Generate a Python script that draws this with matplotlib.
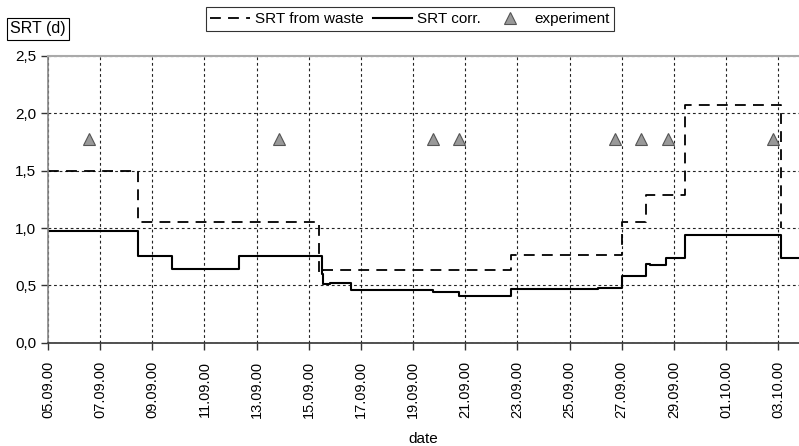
import matplotlib
matplotlib.use('Agg')
import matplotlib.pyplot as plt
from matplotlib.ticker import FixedLocator, FuncFormatter

# days counted from 05.09.00
tick_days = list(range(0, 29, 2))
tick_labels = ['05.09.00', '07.09.00', '09.09.00', '11.09.00', '13.09.00',
               '15.09.00', '17.09.00', '19.09.00', '21.09.00', '23.09.00',
               '25.09.00', '27.09.00', '29.09.00', '01.10.00', '03.10.00']

# SRT from waste (step, value holds until next change)
waste_t = [0, 3.45, 10.41, 10.55, 17.76, 22.03, 22.93, 24.43, 28.1]
waste_v = [1.50, 1.05, 0.61, 0.63, 0.765, 1.055, 1.29, 2.07, 1.0]

# SRT corr.
corr_t = [0, 3.45, 4.74, 7.34, 10.52, 10.56, 10.8, 11.62, 14.78, 15.78,
          17.76, 21.09, 22.03, 22.94, 23.1, 23.7, 24.43, 28.1, 28.8]
corr_v = [0.975, 0.76, 0.645, 0.76, 0.60, 0.51, 0.52, 0.46, 0.44, 0.405,
          0.47, 0.48, 0.58, 0.69, 0.68, 0.735, 0.935, 0.74, 0.74]

# experiment
exp_t = [1.58, 8.85, 14.78, 15.78, 21.75, 22.76, 23.76, 27.8]
exp_v = [1.78, 1.78, 1.78, 1.78, 1.78, 1.78, 1.78, 1.78]

plt.rcParams['font.family'] = ['Liberation Sans', 'DejaVu Sans']
plt.rcParams['font.size'] = 10.5

fig = plt.figure(figsize=(7.99, 4.46), dpi=100)
ax = fig.add_axes([48 / 799, 1 - 342.7 / 446, 1 - 48 / 799, (342.7 - 56) / 446])

l1, = ax.step(waste_t, waste_v, where='post', color='black', lw=1.3,
              linestyle=(0, (6, 4)), label='SRT from waste')
l2, = ax.step(corr_t, corr_v, where='post', color='black', lw=1.5,
              label='SRT corr.')
l3, = ax.plot(exp_t, exp_v, linestyle='none', marker='^', markersize=9,
              markerfacecolor='#999999', markeredgecolor='#555555',
              markeredgewidth=0.8, label='experiment')

ax.set_xlim(0, 28.8)
ax.set_ylim(0, 2.5)
ax.xaxis.set_major_locator(FixedLocator(tick_days))
ax.set_xticklabels(tick_labels, rotation=90)
ax.set_yticks([0, 0.5, 1.0, 1.5, 2.0, 2.5])
ax.yaxis.set_major_formatter(FuncFormatter(lambda v, p: f'{v:.1f}'.replace('.', ',')))

ax.grid(True, color='#222222', linestyle=(0, (2.5, 2.5)), linewidth=0.8)
ax.set_axisbelow(True)
ax.tick_params(direction='out', length=5, color='#333333', width=1)
ax.tick_params(axis='x', pad=8)
ax.tick_params(axis='y', labelsize=11)

ax.spines['right'].set_visible(False)
ax.spines['top'].set_color('#aaaaaa')
ax.spines['top'].set_linewidth(1.5)
ax.spines['left'].set_color('#888888')
ax.spines['left'].set_linewidth(1.2)
ax.spines['bottom'].set_color('#333333')
ax.spines['bottom'].set_linewidth(1.2)

ax.set_xlabel('date', labelpad=10, fontsize=11)

fig.text(10 / 799, 1 - 29 / 446, 'SRT (d)', va='center', ha='left', fontsize=11.5,
         bbox=dict(boxstyle='square,pad=0.2', fc='white', ec='black', lw=0.8))

leg = fig.legend(handles=[l1, l2, l3], loc='center', ncol=3,
                 bbox_to_anchor=(410 / 799, 1 - 19 / 446), frameon=True,
                 fancybox=False, edgecolor='black', handlelength=2.6,
                 handletextpad=0.3, columnspacing=0.6, borderpad=0.3,
                 borderaxespad=0, fontsize=11)
leg.get_frame().set_linewidth(0.8)

fig.savefig('out.png', dpi=100)
